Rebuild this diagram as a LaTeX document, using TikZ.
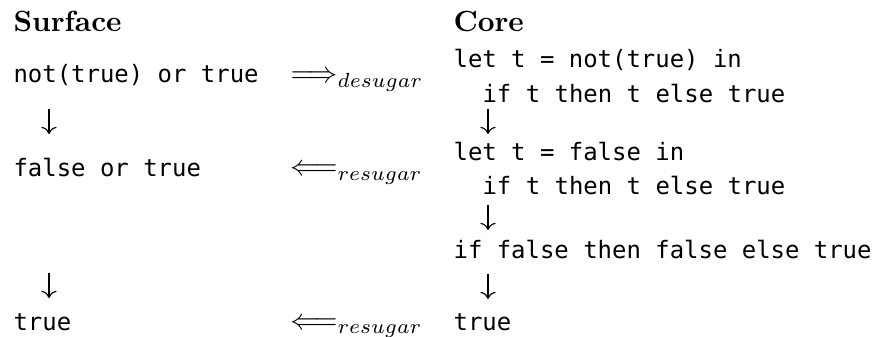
\documentclass[tikz,border=0pt]{standalone}
\usepackage{fontspec}
\setmonofont{DejaVu Sans Mono}[Scale=0.82]
\usetikzlibrary{arrows.meta}
\tikzset{
  code/.style={anchor=base west, inner sep=0pt, font=\ttfamily},
  head/.style={anchor=base west, inner sep=0pt, font=\bfseries},
  rel/.style={anchor=base west, inner sep=0pt},
  steparrow/.style={-{Computer Modern Rightarrow}, line width=0.4pt},
}
\begin{document}
\begin{tikzpicture}[x=0.3425pt,y=-0.3425pt]
\useasboundingbox (0,0) rectangle (876,337);
% headings
\node[head] (surf) at (13,32) {Surface};
\node[head] (core) at (453,32) {Core};
% surface column
\node[code] (s1) at (13,83) {not(true) or true};
\node[code] (s2) at (13,177) {false or true};
\node[code] (s3) at (13,331) {true};
% core column
\node[code] (c1) at (453,68) {let t = not(true) in};
\node[code] (c2) at (482,103) {if t then t else true};
\node[code] (c3) at (453,161) {let t = false in};
\node[code] (c4) at (482,195) {if t then t else true};
\node[code] (c5) at (453,259) {if false then false else true};
\node[code] (c6) at (453,331) {true};
% relations
\node[rel] (des) at (290,83) {$\Longrightarrow_{desugar}$};
\node[rel] (res1) at (290,176) {$\Longleftarrow_{resugar}$};
\node[rel] (res2) at (290,329) {$\Longleftarrow_{resugar}$};
% step arrows
\coordinate (la1) at (49,109);  \coordinate (lb1) at (49,134);
\coordinate (la2) at (49,273);  \coordinate (lb2) at (49,298);
\coordinate (ra1) at (488,109); \coordinate (rb1) at (488,134);
\coordinate (ra2) at (488,205); \coordinate (rb2) at (488,230);
\coordinate (ra3) at (488,274); \coordinate (rb3) at (488,299);
\draw[steparrow] (la1) -- (lb1);
\draw[steparrow] (la2) -- (lb2);
\draw[steparrow] (ra1) -- (rb1);
\draw[steparrow] (ra2) -- (rb2);
\draw[steparrow] (ra3) -- (rb3);
\end{tikzpicture}
\end{document}
